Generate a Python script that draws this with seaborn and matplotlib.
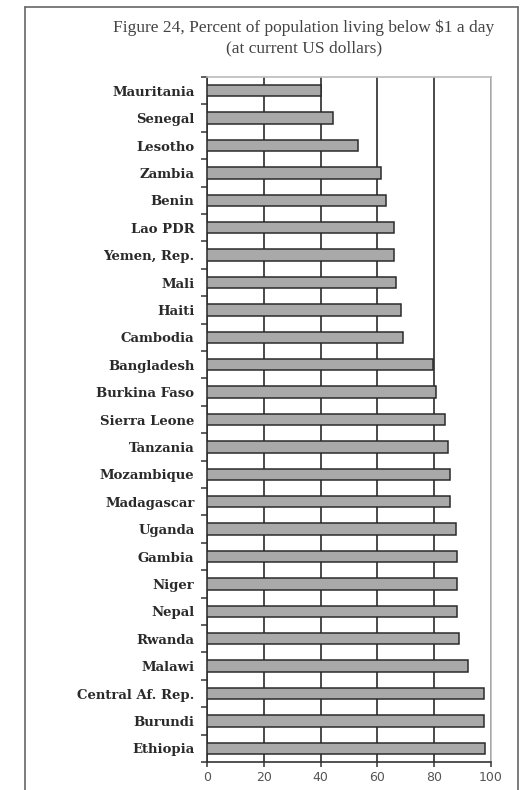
import numpy as np
import pandas as pd
import matplotlib
matplotlib.use('Agg')
import matplotlib.pyplot as plt
from matplotlib.lines import Line2D
import seaborn as sns

# values
countries = ['Mauritania', 'Senegal', 'Lesotho', 'Zambia', 'Benin', 'Lao PDR',
             'Yemen, Rep.', 'Mali', 'Haiti', 'Cambodia', 'Bangladesh',
             'Burkina Faso', 'Sierra Leone', 'Tanzania', 'Mozambique',
             'Madagascar', 'Uganda', 'Gambia', 'Niger', 'Nepal', 'Rwanda',
             'Malawi', 'Central Af. Rep.', 'Burundi', 'Ethiopia']
percent = [40.0, 44.5, 53.3, 61.3, 63.2, 65.7, 65.7, 66.4, 68.2, 68.9, 79.5,
           80.7, 83.7, 84.9, 85.7, 85.7, 87.5, 88.0, 88.0, 88.0, 88.8,
           91.8, 97.4, 97.4, 98.0]
xticks = [0, 20, 40, 60, 80, 100]

df = pd.DataFrame({'country': countries, 'percent': percent})

sns.set_style('white')

fig = plt.figure(figsize=(5.22, 7.90), dpi=100)
ax = fig.add_axes([207 / 522, 1 - 762 / 790, (491 - 207) / 522, (762 - 77) / 790])

sns.barplot(data=df, x='percent', y='country', orient='h', ax=ax,
            color='#a9a9a9', saturation=1, width=0.42,
            edgecolor='#2b2b2b', linewidth=1.1, zorder=3)

ax.set_xlim(0, 100)
ax.set_ylim(len(countries) - 0.5, -0.5)
ax.set_xticks(xticks)
ax.set_xlabel('')
ax.set_ylabel('')

# vertical grid lines behind the bars
ax.set_axisbelow(True)
ax.xaxis.grid(True, color='#4a4a4a', linewidth=1.4)
ax.yaxis.grid(False)

for side in ['left', 'bottom']:
    ax.spines[side].set_color('#333333')
    ax.spines[side].set_linewidth(1.2)
for side in ['top', 'right']:
    ax.spines[side].set_color('#bbbbbb')
    ax.spines[side].set_linewidth(1.2)

# y ticks sit between the categories
ax.set_yticks(np.arange(-0.5, len(countries), 1), minor=True)
ax.tick_params(axis='y', which='major', length=0, pad=9)
ax.tick_params(axis='y', which='minor', length=4, width=1.1, color='#333333',
               direction='out', left=True)
ax.tick_params(axis='x', which='major', length=3.5, width=1.1, color='#333333',
               direction='out', bottom=True, pad=3)

for lab in ax.get_yticklabels():
    lab.set_fontfamily('DejaVu Serif')
    lab.set_fontweight('bold')
    lab.set_fontsize(9.5)
    lab.set_color('#2a2a2a')
for lab in ax.get_xticklabels():
    lab.set_fontfamily('DejaVu Sans')
    lab.set_fontsize(9)
    lab.set_color('#555555')

fig.text(304 / 522, 1 - 28 / 790,
         'Figure 24, Percent of population living below $1 a day',
         ha='center', va='center', family='Liberation Serif', fontsize=12.5,
         color='#444444')
fig.text(304 / 522, 1 - 48 / 790, '(at current US dollars)',
         ha='center', va='center', family='Liberation Serif', fontsize=12.5,
         color='#444444')

# page frame around the figure
fx0, fx1, fy1 = 25 / 522, 518 / 522, 1 - 7 / 790
for xs, ys in [([fx0, fx0], [0, fy1]), ([fx0, fx1], [fy1, fy1]), ([fx1, fx1], [0, fy1])]:
    fig.add_artist(Line2D(xs, ys, transform=fig.transFigure, color='#666666',
                          linewidth=1.2))

fig.savefig('out.png', dpi=100)
